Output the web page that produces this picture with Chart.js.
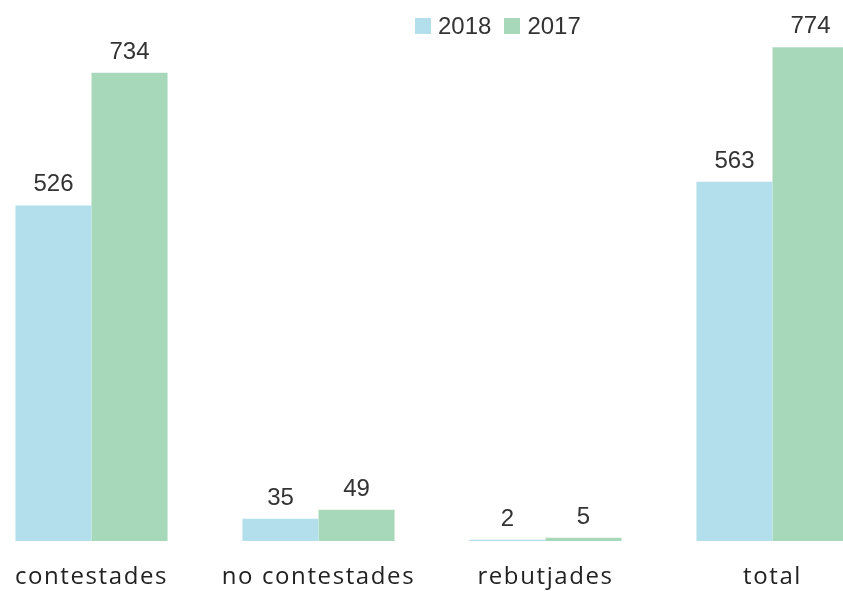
<!DOCTYPE html>
<html>
<head>
<meta charset="utf-8">
<script src="https://cdn.jsdelivr.net/npm/chart.js@4.4.1/dist/chart.umd.min.js"></script>
<style>
  html, body { margin: 0; padding: 0; background: #ffffff; overflow: hidden; }
  body { width: 843px; height: 591px; position: relative; }
  #wrap { position: absolute; left: -22px; top: 0; width: 908px; height: 591px; }
  #legend { position: absolute; left: 415px; top: 12px; display: flex; align-items: center;
            font-family: "Liberation Sans", Arial, sans-serif; font-size: 24px; color: #333; }
  #legend .item { display: flex; align-items: center; margin-right: 13px; }
  #legend .box { width: 16px; height: 16px; margin-right: 7px; }
</style>
</head>
<body>
<div id="wrap"><canvas id="c" width="908" height="591"></canvas></div>
<div id="legend"></div>
<script>
// Categories and yearly counts
const categories = ["contestades", "no contestades", "rebutjades", "total"];
const seriesNames = ["2018", "2017"];
const values2018 = [526, 35, 2, 563];
const values2017 = [734, 49, 5, 774];
const seriesColors = ["#b3dfed", "#a8d8ba"];

// Slightly spaced category text on the x axis
const axisSpacing = {
  id: "axisSpacing",
  beforeDraw(chart) { chart.ctx.letterSpacing = "1.6px"; },
  afterDraw(chart) { chart.ctx.letterSpacing = "0px"; }
};

// Value labels above each bar
const valueLabels = {
  id: "valueLabels",
  afterDatasetsDraw(chart) {
    const ctx = chart.ctx;
    ctx.save();
    ctx.letterSpacing = "0px";
    ctx.font = "24px 'Liberation Sans', Arial, sans-serif";
    ctx.fillStyle = "#333333";
    ctx.textAlign = "center";
    ctx.textBaseline = "alphabetic";
    chart.data.datasets.forEach((ds, i) => {
      chart.getDatasetMeta(i).data.forEach((bar, j) => {
        ctx.fillText(String(ds.data[j]), bar.x, bar.y - 14);
      });
    });
    ctx.restore();
  }
};

const chart = new Chart(document.getElementById("c"), {
  type: "bar",
  data: {
    labels: categories,
    datasets: [
      { label: seriesNames[0], data: values2018, backgroundColor: seriesColors[0], borderWidth: 0 },
      { label: seriesNames[1], data: values2017, backgroundColor: seriesColors[1], borderWidth: 0 }
    ]
  },
  options: {
    responsive: false,
    animation: false,
    layout: { padding: { top: 30.6, bottom: 0, left: 0, right: 0 } },
    datasets: { bar: { categoryPercentage: 0.67, barPercentage: 1.0 } },
    plugins: { legend: { display: false }, tooltip: { enabled: false } },
    scales: {
      y: { display: false, min: 0, max: 800 },
      x: {
        grid: { display: false, drawTicks: false },
        border: { display: false },
        afterFit(scale) { scale.height = 50; },
        ticks: {
          color: "#222222",
          padding: 22,
          font: { family: "'Open Sans', sans-serif", size: 24 }
        }
      }
    }
  },
  plugins: [axisSpacing, valueLabels]
});

// Legend built from the series names and colours
const legend = document.getElementById("legend");
seriesNames.forEach((name, i) => {
  const item = document.createElement("div");
  item.className = "item";
  const box = document.createElement("div");
  box.className = "box";
  box.style.background = seriesColors[i];
  const txt = document.createElement("span");
  txt.textContent = name;
  item.appendChild(box);
  item.appendChild(txt);
  legend.appendChild(item);
});
</script>
</body>
</html>
